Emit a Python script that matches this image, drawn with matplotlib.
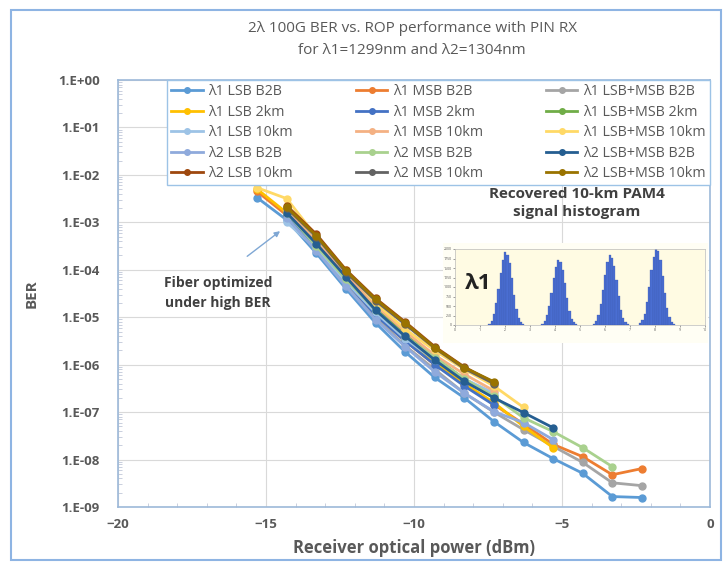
import matplotlib
matplotlib.use('Agg')
import matplotlib.pyplot as plt
import numpy as np
from matplotlib.patches import Rectangle

plt.rcParams['font.family'] = ['Open Sans', 'DejaVu Sans']

# received optical power grid (dBm)
x_all = [-15.3, -14.3, -13.3, -12.3, -11.3, -10.3, -9.3, -8.3, -7.3, -6.3, -5.3, -4.3, -3.3, -2.3]

# log10(BER) per series
l1_lsb_b2b = [-2.48, -2.95, -3.65, -4.4, -5.12, -5.73, -6.27, -6.7, -7.2, -7.64, -7.98, -8.29, -8.78, -8.8]
l1_msb_b2b = [-2.35, -2.85, -3.5, -4.25, -4.95, -5.5, -6.0, -6.4, -6.84, -7.25, -7.68, -7.94, -8.32, -8.19]
l1_both_b2b = [-2.85, -3.55, -4.3, -5.0, -5.6, -6.1, -6.6, -7.0, -7.37, -7.72, -8.06, -8.49, -8.55]
l1_lsb_2km = [-2.3, -2.8, -3.45, -4.2, -4.9, -5.45, -5.95, -6.4, -6.8, -7.3, -7.75]
l1_msb_2km = [-2.85, -3.5, -4.25, -4.95, -5.5, -6.0, -6.45, -6.85]
l1_both_2km = [-2.75, -3.4, -4.1, -4.8, -5.35, -5.85, -6.3, -6.65]
l1_lsb_10km = [-3.0, -3.55, -4.25, -4.9, -5.45, -5.9, -6.3, -6.6]
l1_msb_10km = [-2.75, -3.4, -4.1, -4.75, -5.3, -5.8, -6.2, -6.55]
l1_both_10km = [-2.27, -2.5, -3.3, -4.0, -4.7, -5.25, -5.7, -6.1, -6.45, -6.9]
l2_lsb_b2b = [-2.9, -3.6, -4.35, -5.05, -5.62, -6.15, -6.6, -6.99, -7.22, -7.58]
l2_msb_b2b = [-2.8, -3.5, -4.2, -4.85, -5.4, -5.85, -6.3, -6.67, -7.12, -7.41, -7.75, -8.15]
l2_both_b2b = [-2.8, -3.45, -4.15, -4.85, -5.4, -5.9, -6.35, -6.7, -7.01, -7.33]
l2_lsb_10km = [-2.65, -3.25, -4.0, -4.6, -5.1, -5.62, -6.05, -6.38]
l2_msb_10km = [-2.7, -3.3, -4.05, -4.65, -5.15, -5.65, -6.08, -6.4]
l2_both_10km = [-2.68, -3.28, -4.02, -4.62, -5.12, -5.64, -6.06, -6.36]

# (label, first grid index, values, colour)
series = [
    ('λ1 LSB B2B', 0, l1_lsb_b2b, '#5B9BD5'),
    ('λ1 MSB B2B', 0, l1_msb_b2b, '#ED7D31'),
    ('λ1 LSB+MSB B2B', 1, l1_both_b2b, '#A5A5A5'),
    ('λ1 LSB 2km', 0, l1_lsb_2km, '#FFC000'),
    ('λ1 MSB 2km', 1, l1_msb_2km, '#4472C4'),
    ('λ1 LSB+MSB 2km', 1, l1_both_2km, '#70AD47'),
    ('λ1 LSB 10km', 1, l1_lsb_10km, '#9DC3E6'),
    ('λ1 MSB 10km', 1, l1_msb_10km, '#F4B183'),
    ('λ1 LSB+MSB 10km', 0, l1_both_10km, '#FFD966'),
    ('λ2 LSB B2B', 1, l2_lsb_b2b, '#8FAADC'),
    ('λ2 MSB B2B', 1, l2_msb_b2b, '#A9D18E'),
    ('λ2 LSB+MSB B2B', 1, l2_both_b2b, '#255E91'),
    ('λ2 LSB 10km', 1, l2_lsb_10km, '#9E480E'),
    ('λ2 MSB 10km', 1, l2_msb_10km, '#636363'),
    ('λ2 LSB+MSB 10km', 1, l2_both_10km, '#997300'),
]

# histogram inset: peak centres, peak counts, one peak's bar profile
peak_centres = [2.05, 4.17, 6.23, 8.08]
peak_counts = [1910, 1700, 1830, 2000]
peak_profile = [0.02, 0.06, 0.15, 0.3, 0.5, 0.72, 0.9, 1.0, 0.97, 0.85, 0.65, 0.42, 0.22, 0.1, 0.04, 0.01]

grey = '#595959'
fig = plt.figure(figsize=(7.25, 5.66), dpi=100)

# outer chart border
fig.patches.append(Rectangle((11 / 725, 6 / 566), 710 / 725, 550 / 566, transform=fig.transFigure,
                             fill=False, edgecolor='#8EB4E3', linewidth=1.5))

ax = fig.add_axes([118 / 725, 1 - 507 / 566, 592 / 725, 427 / 566])
handles = []
for label, start, vals, col in series:
    xs = x_all[start:start + len(vals)]
    h, = ax.plot(xs, 10 ** np.array(vals), '-o', color=col, lw=2, ms=5, label=label)
    handles.append(h)

ax.set_yscale('log')
ax.set_xlim(-20, 0)
ax.set_ylim(1e-9, 1)
ax.set_xticks([-20, -15, -10, -5, 0])
ax.set_xticks(np.arange(-20, 1, 1), minor=True)
ax.set_yticks([10.0 ** -k for k in range(10)])
ax.set_yticklabels(['1.E+00'] + ['1.E-%02d' % k for k in range(1, 10)])
ax.tick_params(axis='both', which='major', length=0, labelsize=9.5, labelcolor=grey, pad=8)
ax.tick_params(axis='y', which='major', pad=13)
ax.tick_params(axis='both', which='minor', direction='in', length=3, color='#C0C8D8')
ax.grid(True, which='major', color='#D9D9D9', lw=0.8)
ax.set_axisbelow(True)
for s in ax.spines.values():
    s.set_color('#9DB9D9')
    s.set_linewidth(1.2)
for t in ax.get_xticklabels() + ax.get_yticklabels():
    t.set_fontweight('bold')

ax.set_xlabel('Receiver optical power (dBm)', fontsize=12, fontweight='bold', color=grey, labelpad=6)
ax.set_ylabel('BER', fontsize=11, fontweight='bold', color=grey, labelpad=14)

fig.text(412 / 725, 1 - 28 / 566, '2λ 100G BER vs. ROP performance with PIN RX', ha='center', va='center',
         fontsize=11, color=grey)
fig.text(412 / 725, 1 - 50 / 566, 'for λ1=1299nm and λ2=1304nm', ha='center', va='center',
         fontsize=11, color=grey)

# legend fills row by row, matplotlib fills columns first
order = [i + 3 * r for i in range(3) for r in range(5)]
leg = ax.legend([handles[i] for i in order], [series[i][0] for i in order],
                loc='upper left', bbox_to_anchor=(49 / 592, 322 / 427, 543 / 592, 105 / 427), mode='expand',
                ncol=3, fontsize=10.3, frameon=True, fancybox=False, borderaxespad=0, handlelength=2.2,
                handletextpad=0.4, labelspacing=0.38, columnspacing=0.8, markerscale=0.8,
                borderpad=0.3)
leg.get_frame().set_edgecolor('#9DC3E6')
leg.get_frame().set_linewidth(1.0)
leg.get_frame().set_alpha(1)
for t in leg.get_texts():
    t.set_color(grey)

# annotation
fig.text(218 / 725, 1 - 293 / 566, 'Fiber optimized\nunder high BER', ha='center', va='center',
         fontsize=10, fontweight='bold', color='#404040', linespacing=1.5)
ax.annotate('', xy=(-14.45, 10 ** -3.15), xytext=(245, 566 - 258), textcoords='figure pixels',
            arrowprops=dict(arrowstyle='-|>', color='#7FA7D4', lw=1, mutation_scale=8))

# inset histogram
fig.text(577 / 725, 1 - 203 / 566, 'Recovered 10-km PAM4\nsignal histogram', ha='center', va='center',
         fontsize=11, fontweight='bold', color='#404040', linespacing=1.4)
fig.patches.append(Rectangle((443 / 725, 1 - 343 / 566), 265 / 725, 100 / 566, transform=fig.transFigure,
                             facecolor='#FFFEF4', edgecolor='none', zorder=2))
ins = fig.add_axes([455 / 725, 1 - 325 / 566, 250 / 725, 76 / 566], zorder=3)
ins.set_facecolor('#FFFBE3')
bw = 0.09
offs = (np.arange(len(peak_profile)) - (len(peak_profile) - 1) / 2) * bw
for c, h in zip(peak_centres, peak_counts):
    ins.bar(c + offs, np.array(peak_profile) * h, width=bw, color='#4A6ED2', edgecolor='#3A57A8', linewidth=0.2)
ins.set_xlim(0, 10)
ins.set_ylim(0, 2000)
ins.set_xticks(range(0, 11))
ins.set_yticks(range(0, 2001, 250))
ins.tick_params(labelsize=2.5, length=1.5, width=0.4, colors='#555555', pad=1)
for s in ins.spines.values():
    s.set_color('#BBBBBB')
    s.set_linewidth(0.5)
ins.text(0.04, 0.55, 'λ1', transform=ins.transAxes, fontsize=16, fontweight='bold', color='#222222',
         va='center')

fig.savefig('out.png', dpi=100)
